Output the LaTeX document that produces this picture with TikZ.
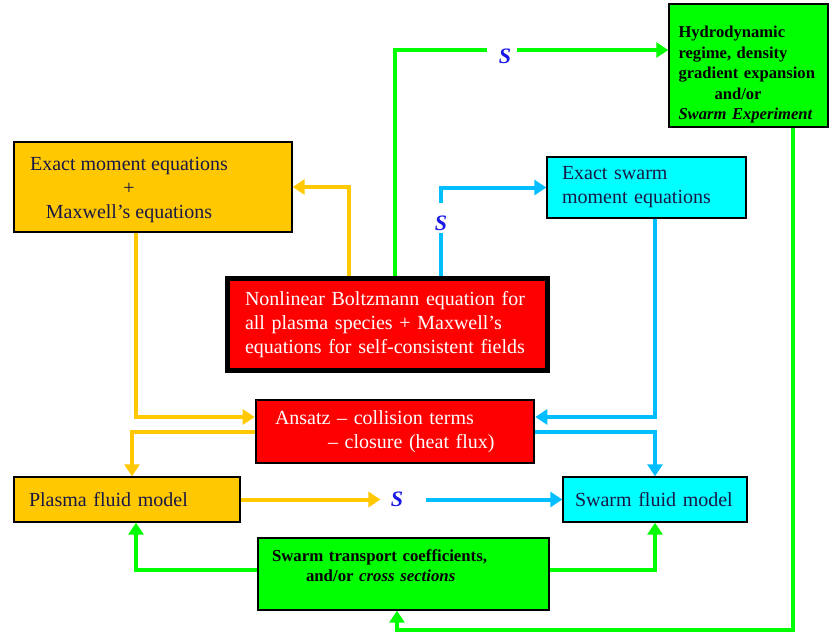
\documentclass[tikz,border=0pt]{standalone}
\usepackage{fontspec}
\setmainfont{Liberation Serif}
\usetikzlibrary{arrows.meta}
\definecolor{amarillo}{RGB}{255,200,0}
\definecolor{cian}{RGB}{0,255,255}
\definecolor{cianlinea}{RGB}{0,190,255}
\definecolor{verde}{RGB}{0,255,0}
\definecolor{rojo}{RGB}{255,0,0}
\definecolor{tinta}{RGB}{25,25,70}
\definecolor{azuls}{RGB}{25,25,230}
\begin{document}
\begin{tikzpicture}[x=0.5pt, y=-0.5pt, >={Triangle[length=6pt,width=7.5pt]},
  caja/.style={draw=black, line width=0.7pt, text=tinta, inner ysep=0pt,
    font=\fontsize{10}{12}\selectfont},
  cajaroja/.style={caja, fill=rojo, text=white},
  cajaverde/.style={caja, fill=verde, text=black,
    font=\fontsize{8.3}{10.3}\selectfont\bfseries},
  letra/.style={text=azuls, inner sep=1pt,
    font=\fontsize{11}{13}\selectfont\bfseries\itshape},
  flechaA/.style={amarillo, line width=2pt},
  flechaC/.style={cianlinea, line width=2pt},
  flechaV/.style={verde, line width=2pt}]
  \useasboundingbox (0,0) rectangle (830,632);
  % Cajas
  \node[caja, fill=amarillo, minimum width=139pt, minimum height=45pt] (momentos) at (153,187)
    {\begin{tabular}{@{}c@{}}\rule{0pt}{11pt}Exact moment equations\\ +\\ Maxwell's equations\end{tabular}\hspace*{24pt}};
  \node[cajaverde, minimum height=61.5pt, text width=70pt, align=left, inner xsep=4.75pt] (hidro) at (748.5,65.5)
    {\rule{0pt}{15pt}Hydrodynamic\\ regime, density\\ gradient expansion\\ \hspace*{18pt}and/or\\ \textit{Swarm Experiment}};
  \node[caja, fill=cian, minimum height=30.5pt, text width=84.5pt, align=left, inner xsep=7.5pt] (enjambre) at (646.5,187.5)
    {Exact swarm\\ moment equations};
  \node[cajaroja, line width=2.5pt, minimum height=46pt, text width=142.5pt, align=left, inner xsep=8.75pt] (boltz) at (387.5,324.5)
    {Nonlinear Boltzmann equation for\\ all plasma species + Maxwell's\\ equations for self-consistent fields};
  \node[cajaroja, line width=1.3pt, minimum height=31.5pt, text width=120pt, align=left, inner xsep=9.5pt] (ansatz) at (395,431.5)
    {Ansatz -- collision terms\\ \hspace*{26.5pt}-- closure (heat flux)};
  \node[caja, fill=amarillo, minimum height=22.5pt, text width=98pt, align=left, inner xsep=7.5pt] (plasma) at (127,499.5)
    {Plasma fluid model};
  \node[caja, fill=cian, minimum height=22.5pt, text width=80pt, align=left, inner xsep=6pt] (fluido) at (655,499.5)
    {Swarm fluid model};
  \node[cajaverde, font=\fontsize{8.4}{10}\selectfont\bfseries, minimum height=36pt, text width=131.5pt, align=left, inner xsep=7pt] (transporte) at (403.5,574)
    {Swarm transport coefficients,\\ \hspace*{17pt}and/or \textit{cross sections}\rule[-8pt]{0pt}{0pt}};
  % Letras S
  \node[letra] (s1) at (505,56) {S};
  \node[letra] (s2) at (441,223.5) {S};
  \node[letra] (s3) at (397,499.5) {S};
  % Flechas desde la ecuacion de Boltzmann
  \coordinate (hidroin) at ([yshift=7.75pt]hidro.west);
  \draw[flechaV, shorten >=4.5pt] ([xshift=85pt]boltz.north west) |- (s1.west |- hidroin);
  \draw[flechaV, ->, shorten <=1.5pt] (s1.east |- hidroin) -- (hidroin);
  \draw[flechaA, ->] ([xshift=62pt]boltz.north west) |- (momentos.east);
  \draw[flechaC] ([xshift=108pt]boltz.north west) -- (s2.south);
  \draw[flechaC, ->, shorten <=5.5pt] (s2.north) |- (enjambre.west);
  % Flechas hacia y desde el Ansatz
  \draw[flechaA, ->] ([xshift=-8.5pt]momentos.south) |- ([yshift=7.25pt]ansatz.west);
  \draw[flechaA, ->] ([yshift=-0.25pt]ansatz.west) -| ([xshift=2.5pt]plasma.north);
  \draw[flechaC, ->] ([xshift=4.25pt]enjambre.south) |- ([yshift=7.25pt]ansatz.east);
  \draw[flechaC, ->] ([yshift=-0.25pt]ansatz.east) -| (fluido.north);
  % Modelos de fluido
  \draw[flechaA, ->, shorten >=4pt] (plasma.east) -- (s3.west);
  \draw[flechaC, ->, shorten <=10pt] (s3.east) -- (fluido.west);
  % Coeficientes de transporte
  \draw[flechaV, ->] ([yshift=2pt]transporte.west) -| ([xshift=4.5pt]plasma.south);
  \draw[flechaV, ->] ([yshift=2pt]transporte.east) -| (fluido.south);
  \coordinate (fondo) at (0,630);
  \coordinate (vin) at ([xshift=-3.25pt]transporte.south);
  \draw[flechaV, ->] ([xshift=22.25pt]hidro.south) |- (vin |- fondo) -- (vin);
\end{tikzpicture}
\end{document}
